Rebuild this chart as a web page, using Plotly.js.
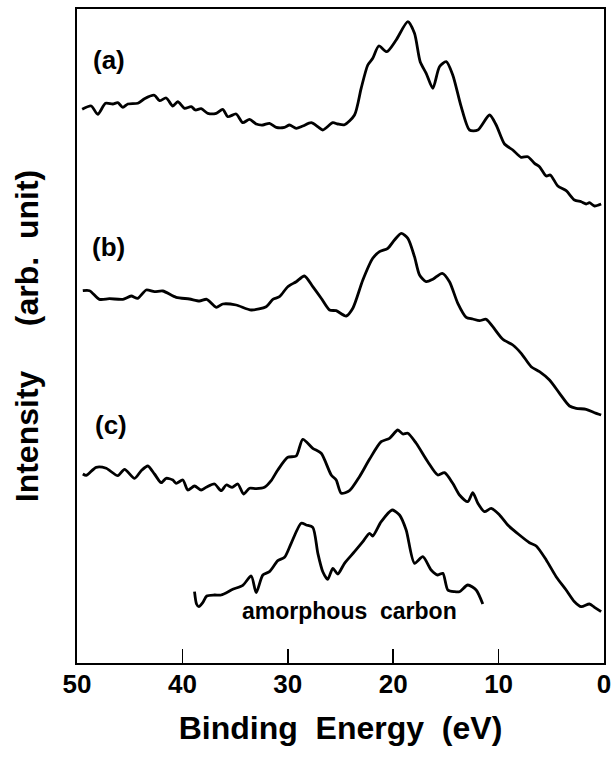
<!DOCTYPE html>
<html>
<head>
<meta charset="utf-8">
<script src="https://cdn.plot.ly/plotly-3.0.1.min.js"></script>
<style>html,body{margin:0;padding:0;background:#fff;}#chart{width:612px;height:762px;}</style>
</head>
<body>
<div id="chart"></div>
<script>
// Binding energy (eV) and intensity (arb. unit, curves offset vertically as in the figure)
const energyA = [49.51,48.65,48.03,47.30,46.60,46.13,45.65,45.18,44.23,43.60,42.65,42.17,41.54,40.91,40.44,39.80,39.17,38.76,38.22,37.59,36.79,36.17,35.69,34.90,34.27,33.63,33.00,32.37,31.74,31.10,30.31,29.84,29.20,28.58,27.78,27.15,26.68,25.73,25.26,24.62,23.67,23.04,22.41,21.94,21.37,20.61,19.72,18.61,17.98,17.44,16.87,16.24,15.61,14.97,14.35,13.55,12.76,11.97,10.86,10.23,9.44,8.65,7.86,7.23,6.59,6.12,5.48,5.10,4.38,3.59,2.80,2.16,1.69,1.38,0.90,0.27];
const intensA = [553.7,557,548.7,559.7,559,560.3,555.7,559,559.7,564.3,567.7,562.3,565,557,561.3,554.7,556.3,553,554.3,549.7,549.7,553.7,546.3,549,540.3,543.7,539,538,539.7,535.7,535.7,538,534.7,537,540.3,536.3,533,540.3,539,538.3,548,574.7,598,604.7,617,611.3,623,641.3,629.7,601.3,589.7,574.7,596.3,601.3,588,556.3,533,533,548,538,519,513,505.7,506.3,499.7,496.3,487,488,477,472.3,463,461.3,459,460.3,457,459];

const energyB = [49.45,48.81,47.87,46.92,45.65,44.86,44.23,43.43,42.65,41.86,40.59,39.33,38.38,37.69,36.79,36.17,34.90,33.47,32.05,31.42,30.79,30.00,29.20,28.42,27.63,26.83,26.04,25.41,24.46,23.83,22.88,21.94,21.30,20.51,19.88,19.24,18.61,17.98,17.50,16.87,16.24,15.35,14.66,13.87,13.07,12.45,11.81,11.18,10.55,9.60,8.65,7.86,6.91,6.12,5.17,4.22,3.27,2.64,1.69,0.90,0.27];
const intensB = [372.3,372.3,363.7,364.3,363.7,367,364.7,373,371.3,372,365.7,364,362,363.7,355.7,359,358,353,356.3,363.7,366.3,376.3,381.3,387,376.3,364.7,353,352.3,347,354.7,383,404.7,411.3,414.7,423,429.7,424.7,406.3,388,381.3,383.7,389.7,381.3,359.7,345.7,344,342.3,343.7,336.3,323.7,318,309.7,296.3,291.3,283,269.7,257,254.7,253.7,250.3,248];

const energyC = [49.45,49.13,48.18,47.23,46.13,45.49,44.54,43.91,43.28,42.65,42.01,41.54,40.91,40.59,39.96,39.49,38.85,38.22,37.74,36.95,36.32,35.84,35.28,34.74,34.20,33.63,33.00,32.21,31.58,30.95,30.00,29.20,28.58,27.63,26.83,25.88,25.41,24.93,24.15,23.20,22.25,21.14,20.35,19.56,19.09,18.61,17.82,16.72,15.77,15.13,14.35,13.71,12.92,12.45,11.97,11.34,10.70,9.91,9.13,8.02,7.07,6.43,5.48,4.54,3.59,2.80,2.16,1.38,0.90,0.27];
const intensC = [189,187.7,195.7,194.7,187.3,193.7,184.7,192.3,197,189,180.3,184.7,183,179.7,183,173,177,173,175.7,179,172.3,178,175.7,179,169,174.7,174.3,175.7,182.3,193,205.7,207,223.7,214.7,209.7,188,183,169.7,172.3,186.3,203.7,221.3,224.7,233,229,229.7,219.7,201.3,188,190.3,179.7,168,161.3,170.3,159.7,151.3,154.7,148,138,128,120.3,117,103,86.3,73,61.3,56.3,59,55.7,51.3];

const energyAmC = [38.85,38.66,38.44,38.07,37.69,36.95,36.32,35.22,34.27,33.47,33.00,32.37,31.74,30.95,30.31,29.68,28.73,28.25,27.63,27.15,26.68,26.21,25.73,25.26,24.62,23.67,22.88,22.25,21.94,21.14,20.10,19.40,18.77,17.98,17.19,16.40,15.77,15.29,14.82,14.18,13.71,12.92,12.13,11.50];
const intensAmC = [71.3,59,56.3,60.3,67,68,68,73.7,77.7,87,70.3,88,91.3,102.3,105.7,119.7,139.7,138,135.7,109.7,91.3,83.7,94.7,89,99.7,111.3,121.3,129.7,127,141.3,153,148,133,99.7,106.3,93,88,89.7,73,71.3,71.3,78,73,59];

const tickValues = [50,40,30,20,10,0];
const curveLabels = ["(a)","(b)","(c)","amorphous\u00a0\u00a0carbon"];

const FONT = "Liberation Sans, Arial, Helvetica, sans-serif";
const lineStyle = {color:"#000", width:2.8, shape:"spline", smoothing:0.7};

const traces = [
  [energyA,intensA],[energyB,intensB],[energyC,intensC],[energyAmC,intensAmC]
].map(([x,y]) => ({x:x, y:y, type:"scatter", mode:"lines", line:lineStyle, hoverinfo:"skip", showlegend:false}));

const layout = {
  width:612, height:762,
  margin:{l:77, r:8, t:9, b:99},
  paper_bgcolor:"#fff", plot_bgcolor:"#fff",
  showlegend:false,
  xaxis:{
    range:[50,0], tickvals:tickValues, ticktext:tickValues.map(String),
    ticks:"inside", ticklen:14, tickwidth:1.6, tickcolor:"#000",
    showline:true, linewidth:2, linecolor:"#000", mirror:true,
    showgrid:false, zeroline:false,
    tickfont:{family:FONT, size:26, color:"#000", weight:"bold"},
    ticklabelstandoff:-3,
    title:{text:"Binding\u00a0\u00a0Energy\u00a0\u00a0(eV)", font:{family:FONT, size:32, color:"#000", weight:"bold"}, standoff:18},
    automargin:false
  },
  yaxis:{
    range:[0,654], showticklabels:false, ticks:"",
    showline:true, linewidth:2, linecolor:"#000", mirror:true,
    showgrid:false, zeroline:false,
    title:{text:"Intensity\u00a0\u00a0\u00a0\u00a0\u00a0(arb.\u00a0\u00a0unit)", font:{family:FONT, size:32, color:"#000", weight:"bold"}, standoff:27},
    automargin:false
  },
  annotations:[
    {x:47.0, y:603, text:curveLabels[0]},
    {x:47.0, y:416, text:curveLabels[1]},
    {x:46.75, y:238, text:curveLabels[2]},
    {x:24.15, y:52, text:curveLabels[3], font:{family:FONT, size:23, color:"#000", weight:"bold"}}
  ].map(a => Object.assign({xref:"x", yref:"y", showarrow:false, xanchor:"center", yanchor:"middle",
      font:{family:FONT, size:26, color:"#000", weight:"bold"}}, a))
};

Plotly.newPlot("chart", traces, layout, {staticPlot:true, displayModeBar:false});
</script>
</body>
</html>
